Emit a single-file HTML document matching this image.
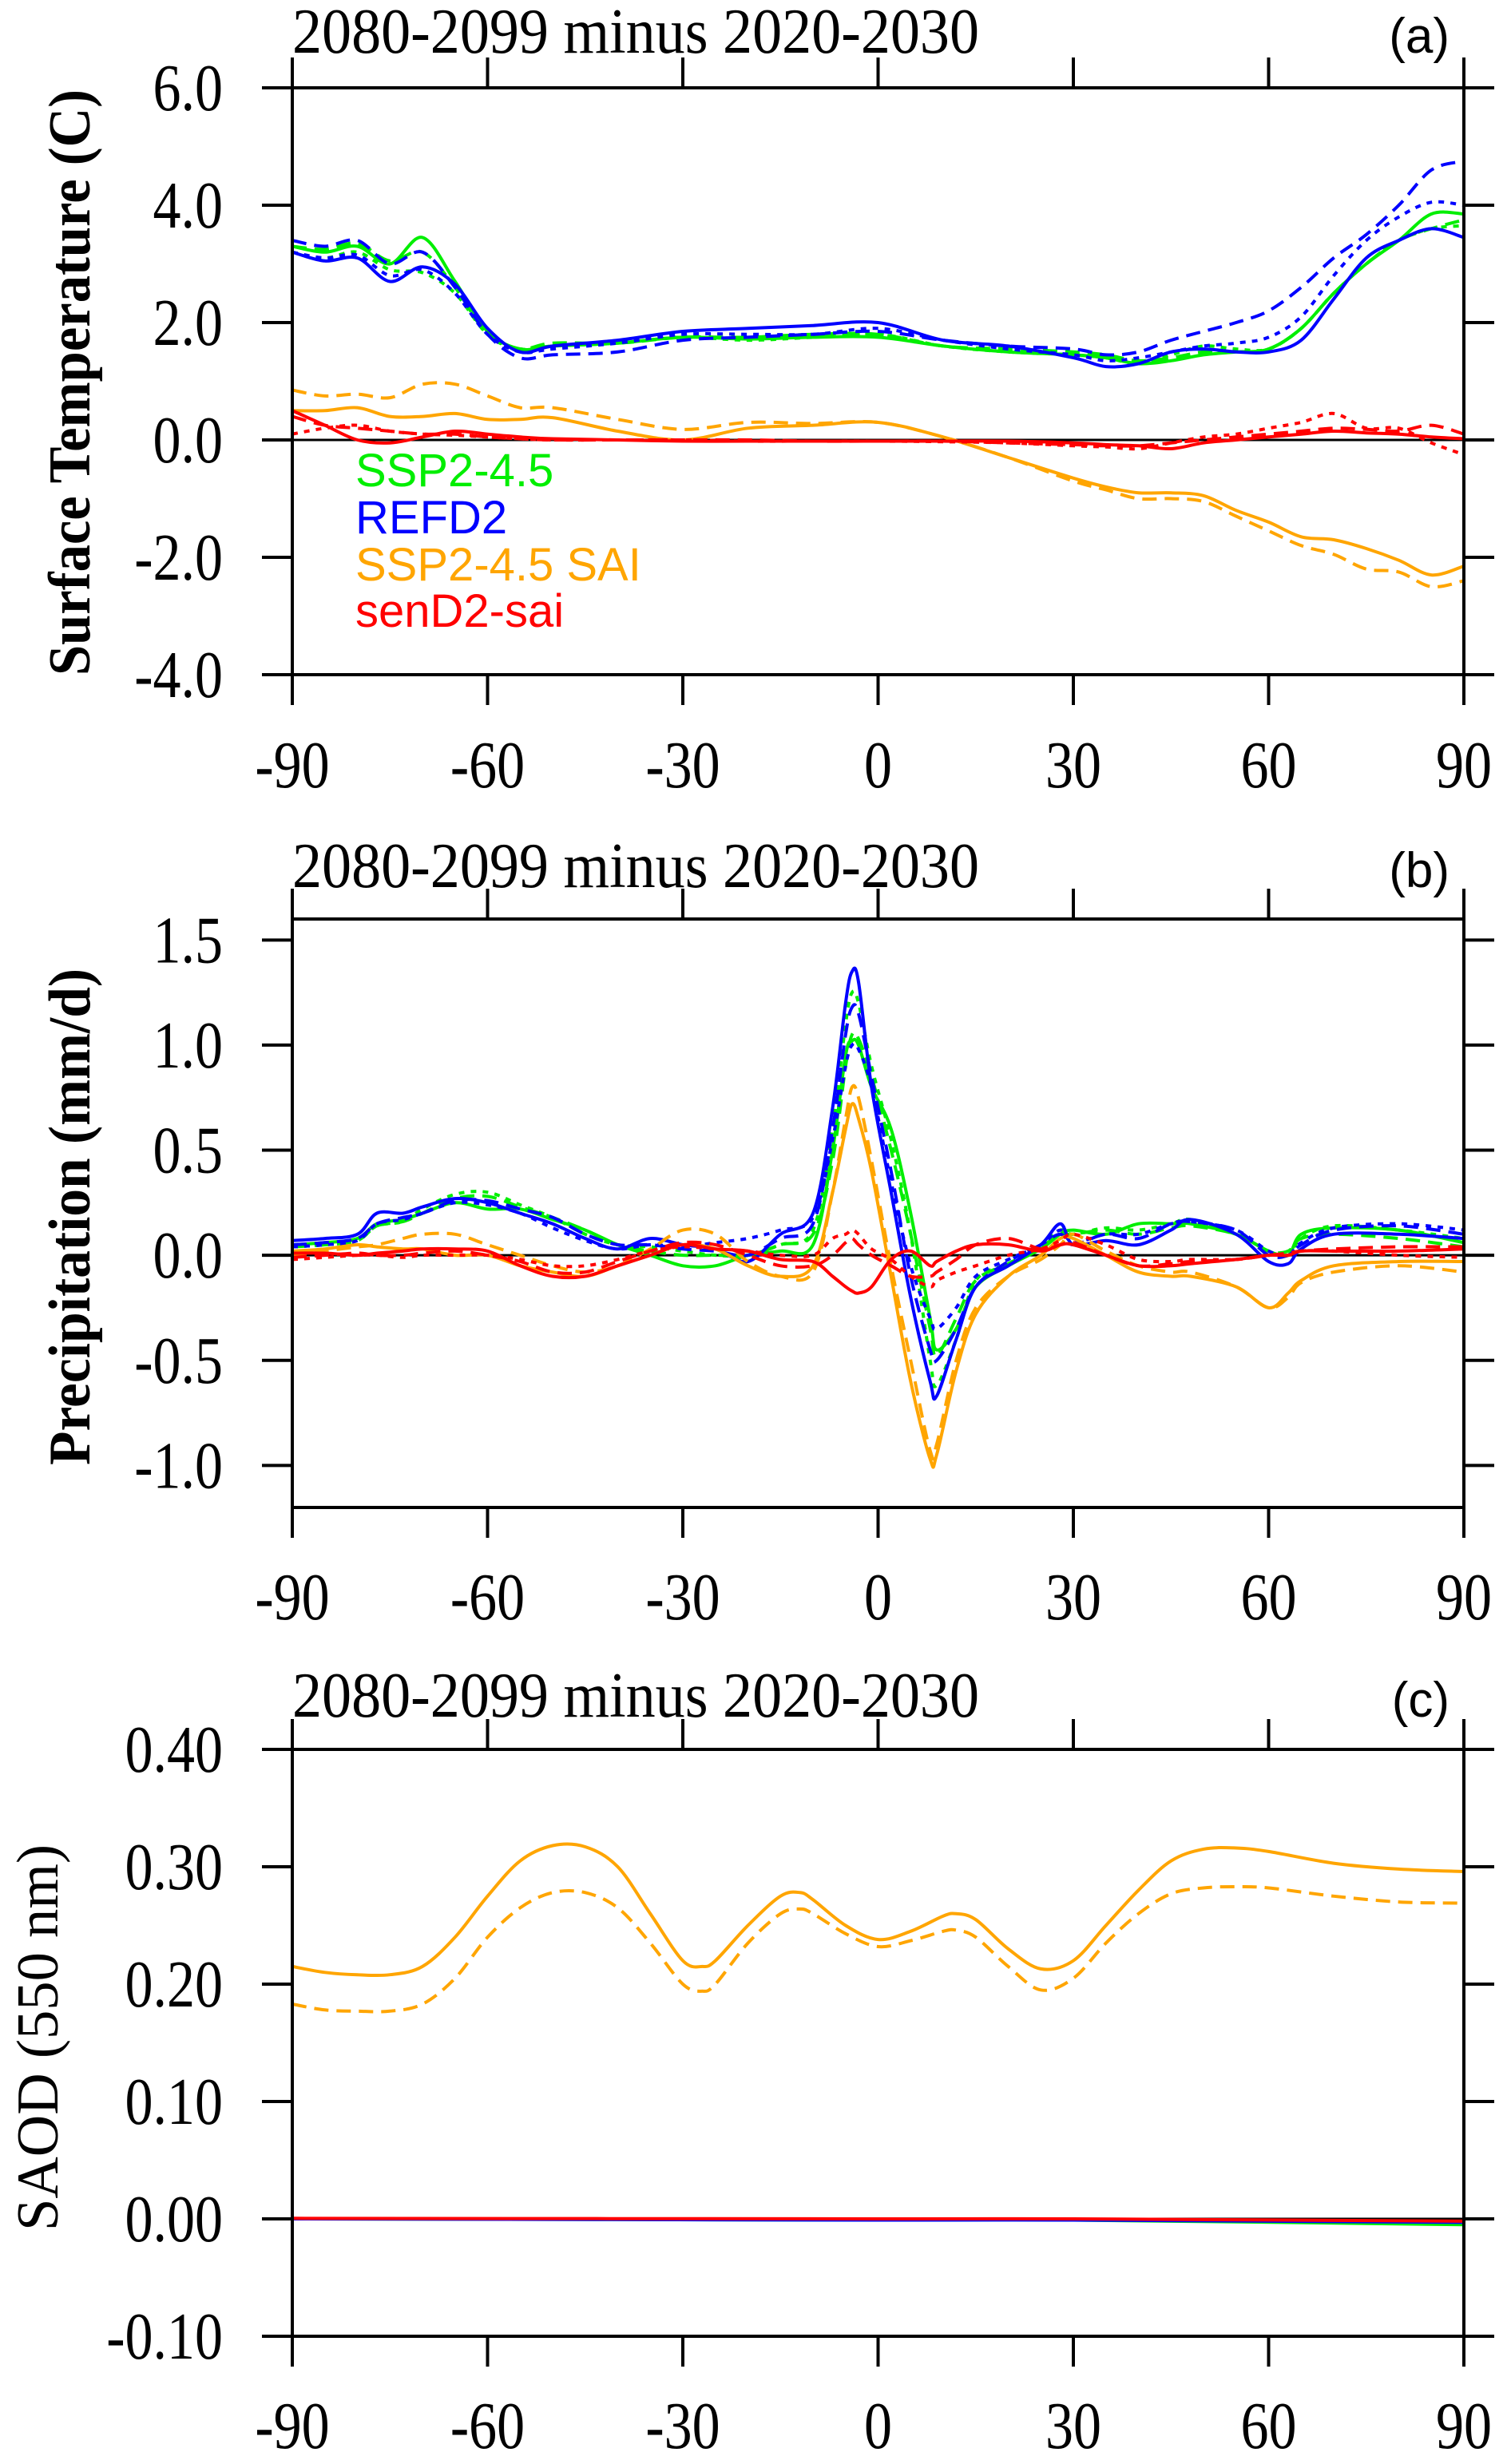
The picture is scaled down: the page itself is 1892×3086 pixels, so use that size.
<!DOCTYPE html>
<html><head><meta charset="utf-8"><style>
html,body{margin:0;padding:0;background:#fff;}
svg{display:block;}
</style></head><body>
<svg id="fig" width="1892" height="3086" viewBox="0 0 1892 3086" xmlns="http://www.w3.org/2000/svg"></svg>
<script>
// ---------- DATA ----------
const latA=[-90,-85,-80,-75,-70,-65,-60,-55,-50,-40,-30,-20,-10,0,10,20,30,35,40,45,50,55,60,65,70,75,80,85,90];
const tsGreenSolid=[3.3,3.2,3.3,3.0,3.45,2.7,1.85,1.55,1.6,1.65,1.75,1.72,1.75,1.75,1.6,1.5,1.45,1.4,1.3,1.35,1.45,1.5,1.55,1.9,2.5,3.0,3.4,3.85,3.85];
const tsGreenDash=[3.3,3.25,3.35,3.05,3.2,2.6,1.8,1.55,1.65,1.65,1.75,1.75,1.8,1.8,1.6,1.55,1.5,1.45,1.35,1.4,1.5,1.5,1.55,1.9,2.5,3.0,3.4,3.6,3.75];
const tsGreenDot=[3.2,3.1,3.2,2.9,2.85,2.5,1.8,1.55,1.6,1.65,1.75,1.7,1.75,1.8,1.6,1.5,1.45,1.4,1.3,1.45,1.6,1.55,1.55,1.9,2.5,3.0,3.4,3.6,3.65];
const tsBlueSolid=[3.2,3.05,3.1,2.7,2.95,2.65,1.9,1.5,1.6,1.7,1.85,1.9,1.95,2.0,1.7,1.6,1.4,1.25,1.3,1.5,1.55,1.5,1.5,1.7,2.4,3.1,3.4,3.6,3.45];
const tsBlueDash=[3.4,3.3,3.4,3.0,3.2,2.6,1.8,1.4,1.45,1.5,1.7,1.75,1.8,1.85,1.7,1.6,1.55,1.45,1.5,1.7,1.85,2.0,2.2,2.6,3.1,3.5,4.0,4.6,4.75];
const tsBlueDot=[3.2,3.1,3.15,2.8,2.9,2.5,1.8,1.5,1.55,1.65,1.8,1.8,1.8,1.9,1.7,1.55,1.45,1.35,1.4,1.5,1.6,1.65,1.75,2.1,2.8,3.4,3.8,4.05,4.0];
const tsOrangeSolid=[0.5,0.5,0.55,0.4,0.4,0.45,0.35,0.35,0.38,0.15,0.0,0.2,0.25,0.3,0.05,-0.3,-0.65,-0.8,-0.9,-0.9,-0.95,-1.2,-1.4,-1.65,-1.7,-1.85,-2.05,-2.3,-2.15];
const tsOrangeDash=[0.85,0.75,0.78,0.72,0.95,0.95,0.75,0.55,0.55,0.35,0.18,0.3,0.28,0.3,0.05,-0.3,-0.7,-0.85,-1.0,-1.0,-1.05,-1.3,-1.55,-1.8,-1.95,-2.2,-2.25,-2.5,-2.4];
const tsRedSolid=[0.5,0.25,0.0,-0.05,0.05,0.15,0.1,0.05,0.02,0.0,-0.02,-0.02,-0.02,-0.02,-0.02,-0.02,-0.05,-0.08,-0.1,-0.15,-0.05,0.0,0.05,0.1,0.15,0.12,0.1,0.05,0.02];
const tsRedDash=[0.4,0.25,0.2,0.15,0.1,0.1,0.05,0.02,0.0,0.0,0.0,0.0,-0.02,-0.02,-0.02,-0.05,-0.08,-0.1,-0.1,-0.05,0.0,0.05,0.1,0.15,0.2,0.18,0.15,0.25,0.1];
const tsRedDot=[0.1,0.2,0.25,0.15,0.1,0.08,0.05,0.02,0.0,0.0,0.0,-0.02,-0.02,-0.02,-0.03,-0.05,-0.1,-0.12,-0.15,-0.05,0.05,0.1,0.2,0.3,0.45,0.2,0.2,-0.05,-0.25];

const latB=[-90,-85,-80,-77,-73,-70,-65,-60,-55,-50,-45,-40,-35,-30,-25,-20,-15,-10,-7,-5,-4,-3,-1,2,5,8,9,12,15,20,25,28,30,35,40,45,48,55,60,63,65,70,80,90];
const prBlueSolid=[0.07,0.08,0.1,0.2,0.2,0.23,0.27,0.25,0.2,0.15,0.08,0.03,0.08,0.05,0.03,-0.03,0.1,0.2,0.7,1.2,1.35,1.3,0.8,0.3,-0.2,-0.6,-0.67,-0.4,-0.15,-0.05,0.05,0.15,0.05,0.07,0.05,0.12,0.17,0.1,-0.03,-0.04,0.03,0.1,0.1,0.08];
const prBlueDash=[0.05,0.06,0.08,0.15,0.18,0.2,0.26,0.26,0.22,0.18,0.1,0.05,0.05,0.03,0.02,0.0,0.08,0.15,0.6,1.05,1.18,1.15,0.85,0.4,-0.1,-0.45,-0.5,-0.35,-0.15,-0.03,0.05,0.1,0.05,0.1,0.08,0.15,0.16,0.12,0.0,0.0,0.05,0.12,0.14,0.1];
const prBlueDot=[0.04,0.05,0.07,0.15,0.17,0.2,0.25,0.24,0.2,0.13,0.07,0.03,0.05,0.04,0.06,0.08,0.12,0.18,0.55,0.9,1.0,0.98,0.8,0.35,-0.05,-0.3,-0.35,-0.25,-0.1,-0.02,0.05,0.12,0.06,0.1,0.1,0.15,0.16,0.12,0.02,0.0,0.06,0.13,0.15,0.12];
const prGreenSolid=[0.05,0.06,0.08,0.15,0.17,0.2,0.25,0.22,0.22,0.17,0.12,0.05,0.0,-0.05,-0.05,0.0,0.02,0.05,0.5,0.95,1.02,1.0,0.8,0.6,0.2,-0.3,-0.45,-0.35,-0.15,-0.05,0.03,0.1,0.12,0.1,0.15,0.15,0.15,0.1,0.02,0.0,0.1,0.13,0.12,0.06];
const prGreenDash=[0.04,0.05,0.07,0.14,0.16,0.2,0.27,0.28,0.23,0.18,0.12,0.05,0.02,0.0,0.0,0.0,0.05,0.1,0.45,0.9,1.05,1.03,0.85,0.5,0.1,-0.35,-0.48,-0.3,-0.12,-0.04,0.04,0.1,0.1,0.12,0.1,0.13,0.14,0.1,0.02,0.02,0.08,0.1,0.08,0.04];
const prGreenDot=[0.04,0.05,0.07,0.14,0.16,0.22,0.29,0.3,0.24,0.18,0.1,0.05,0.04,0.02,0.0,0.0,0.05,0.12,0.6,1.1,1.25,1.2,0.9,0.55,0.1,-0.5,-0.62,-0.4,-0.12,-0.04,0.05,0.12,0.1,0.13,0.12,0.15,0.17,0.1,0.02,0.0,0.08,0.14,0.12,0.08];
const prOrangeSolid=[0.02,0.03,0.05,0.04,0.03,0.03,0.0,0.0,-0.05,-0.08,-0.1,-0.05,0.0,0.05,0.03,-0.05,-0.1,-0.05,0.3,0.6,0.72,0.65,0.4,-0.1,-0.6,-0.97,-0.95,-0.55,-0.28,-0.1,0.0,0.08,0.08,0.0,-0.08,-0.1,-0.1,-0.15,-0.25,-0.18,-0.12,-0.05,-0.03,-0.03];
const prOrangeDash=[0.0,0.02,0.04,0.05,0.08,0.1,0.1,0.05,0.0,-0.05,-0.08,-0.05,0.03,0.12,0.1,-0.03,-0.1,-0.08,0.3,0.65,0.8,0.75,0.45,-0.05,-0.5,-0.93,-0.9,-0.5,-0.25,-0.1,-0.02,0.05,0.1,0.02,-0.05,-0.08,-0.08,-0.15,-0.25,-0.2,-0.13,-0.08,-0.05,-0.08];
const prRedSolid=[0.01,0.01,0.0,0.01,0.02,0.03,0.03,0.02,-0.05,-0.1,-0.1,-0.05,0.0,0.05,0.03,0.02,-0.02,-0.03,-0.1,-0.15,-0.17,-0.18,-0.15,-0.02,0.02,-0.05,-0.03,0.02,0.05,0.05,0.02,0.05,0.05,0.0,-0.05,-0.05,-0.04,-0.02,0.0,0.0,0.02,0.02,0.02,0.03];
const prRedDash=[-0.01,0.0,0.01,0.0,0.0,0.01,0.02,0.0,-0.03,-0.08,-0.08,-0.03,0.02,0.06,0.05,0.0,-0.05,-0.05,0.0,0.06,0.08,0.05,0.0,-0.05,-0.1,-0.1,-0.08,-0.02,0.05,0.08,0.03,0.05,0.06,0.0,-0.05,-0.04,-0.03,-0.02,0.0,0.01,0.02,0.03,0.04,0.04];
const prRedDot=[-0.02,-0.01,0.0,0.0,-0.01,0.0,0.0,0.0,-0.02,-0.05,-0.05,-0.02,0.02,0.04,0.03,0.02,0.0,0.0,0.08,0.1,0.12,0.1,0.03,-0.02,-0.1,-0.15,-0.12,-0.08,-0.05,0.0,0.03,0.07,0.1,0.05,-0.02,-0.03,-0.02,-0.02,0.0,0.0,0.02,0.02,0.0,-0.01];

const latC=[-90,-85,-80,-75,-70,-65,-60,-55,-50,-45,-40,-35,-30,-27,-25,-20,-15,-12,-10,-5,0,5,10,12,15,20,25,30,35,40,45,50,55,60,70,80,90];
const aodOrangeSolid=[0.215,0.21,0.208,0.208,0.215,0.24,0.275,0.305,0.318,0.317,0.30,0.26,0.22,0.215,0.22,0.25,0.275,0.278,0.272,0.25,0.238,0.245,0.258,0.26,0.255,0.23,0.213,0.22,0.25,0.28,0.305,0.315,0.316,0.313,0.303,0.298,0.296];
const aodOrangeDash=[0.183,0.178,0.177,0.177,0.183,0.205,0.24,0.265,0.278,0.278,0.265,0.235,0.2,0.194,0.2,0.235,0.26,0.264,0.26,0.243,0.232,0.237,0.245,0.246,0.24,0.215,0.195,0.205,0.235,0.26,0.277,0.282,0.283,0.282,0.275,0.27,0.269];
const latC0=[-90,0,30,90];
const aodGreen=[0,-0.001,-0.001,-0.005];
const aodBlue=[0,-0.001,-0.001,-0.003];
const aodRed=[0.0005,0,0,-0.002];

const xTicks=[-90,-60,-30,0,30,60,90];
const xTickLabels=["-90","-60","-30","0","30","60","90"];
const yTicksA=[-4,-2,0,2,4,6];
const yTickLabelsA=["-4.0","-2.0","0.0","2.0","4.0","6.0"];
const yTicksB=[-1,-0.5,0,0.5,1,1.5];
const yTickLabelsB=["-1.0","-0.5","0.0","0.5","1.0","1.5"];
const yTicksC=[-0.1,0,0.1,0.2,0.3,0.4];
const yTickLabelsC=["-0.10","0.00","0.10","0.20","0.30","0.40"];

// ---------- DRAWING ----------
const NS="http://www.w3.org/2000/svg";
const svg=document.getElementById('fig');
const X0=366,X1=1833;
const COL={green:'#00ee00',blue:'#0000ff',orange:'#ffa500',red:'#ff0000'};
const DASH={solid:null,dash:'18,10',dot:'7,8'};
function mk(tag,attrs,parent){const e=document.createElementNS(NS,tag);for(const k in attrs)e.setAttribute(k,attrs[k]);(parent||svg).appendChild(e);return e;}
function xs(lat){return X0+(lat+90)/180*(X1-X0);}
function condense(t){ // keep natural width at 70px but make glyphs taller
  const w=t.getComputedTextLength();
  t.setAttribute('font-size',84);
  t.setAttribute('textLength',w.toFixed(1));
  t.setAttribute('lengthAdjust','spacingAndGlyphs');
}
function smoothPath(px,py){
  let d='M'+px[0].toFixed(1)+','+py[0].toFixed(1);
  for(let i=0;i<px.length-1;i++){
    const x0=px[Math.max(i-1,0)],y0=py[Math.max(i-1,0)],x1=px[i],y1=py[i],x2=px[i+1],y2=py[i+1],x3=px[Math.min(i+2,px.length-1)],y3=py[Math.min(i+2,px.length-1)];
    const c1x=x1+(x2-x0)/6,c1y=y1+(y2-y0)/6,c2x=x2-(x3-x1)/6,c2y=y2-(y3-y1)/6;
    d+=' C'+c1x.toFixed(1)+','+c1y.toFixed(1)+' '+c2x.toFixed(1)+','+c2y.toFixed(1)+' '+x2.toFixed(1)+','+y2.toFixed(1);
  }
  return d;
}
function panel(cfg){
  const g=mk('g',{});
  
  
  const ys=v=>cfg.yTop+(cfg.ymax-v)/(cfg.ymax-cfg.ymin)*(cfg.yBot-cfg.yTop);
  const z=mk('line',{x1:X0,x2:X1,y1:ys(0),y2:ys(0),stroke:'#000','stroke-width':3},g);
  
  
  const cpath=mk('clipPath',{id:'clip'+cfg.id},svg);
  mk('rect',{x:X0,y:cfg.yTop,width:X1-X0,height:cfg.yBot-cfg.yTop},cpath);
  const sg=mk('g',{'clip-path':'url(#clip'+cfg.id+')'},g);
  cfg.series.forEach(s=>{
    const px=s.lat.map(xs),py=s.vals.map(ys);
    const p=mk('path',{d:smoothPath(px,py),fill:'none',stroke:COL[s.col],'stroke-width':4,'stroke-linejoin':'round'},sg);
    if(DASH[s.style])p.setAttribute('stroke-dasharray',DASH[s.style]);
    
    
  });
  const fr=mk('rect',{x:X0,y:cfg.yTop,width:X1-X0,height:cfg.yBot-cfg.yTop,fill:'none',stroke:'#000','stroke-width':4},g);
  
  
  xTicks.forEach((t,i)=>{
    const x=xs(t);
    mk('line',{x1:x,x2:x,y1:cfg.yBot,y2:cfg.yBot+38,stroke:'#000','stroke-width':4},g);
    mk('line',{x1:x,x2:x,y1:cfg.yTop,y2:cfg.yTop-38,stroke:'#000','stroke-width':4},g);
    const tl=mk('text',{x:x,y:cfg.xLabBase,'text-anchor':'middle','font-family':'Liberation Serif, serif','font-size':70},g);
    tl.textContent=xTickLabels[i];
    
    
    condense(tl);
  });
  cfg.yTicks.forEach((t,i)=>{
    const y=ys(t);
    mk('line',{x1:X0-38,x2:X0,y1:y,y2:y,stroke:'#000','stroke-width':4},g);
    mk('line',{x1:X1,x2:X1+38,y1:y,y2:y,stroke:'#000','stroke-width':4},g);
    const tl=mk('text',{x:279,y:y+28,'text-anchor':'end','font-family':'Liberation Serif, serif','font-size':70},g);
    tl.textContent=cfg.yTickLabels[i];
    
    
    condense(tl);
  });
  const ti=mk('text',{x:X0,y:cfg.titleBase,'font-family':'Liberation Serif, serif','font-size':80,textLength:860,lengthAdjust:'spacingAndGlyphs'},g);
  ti.textContent='2080-2099 minus 2020-2030';
  
  
  const pl=mk('text',{x:1815,y:cfg.titleBase,'text-anchor':'end','font-family':'Liberation Sans, sans-serif','font-size':62},g);
  pl.textContent=cfg.letter;
  
  
  const cy=cfg.ylabCenter;
  const yl=mk('text',{x:cfg.ylabX,y:cy,'text-anchor':'middle','font-family':'Liberation Serif, serif','font-size':74,'font-weight':cfg.ylabWeight,transform:'rotate(-90 '+cfg.ylabX+' '+cy+')',textLength:cfg.ylabLen,lengthAdjust:'spacingAndGlyphs'},g);
  yl.textContent=cfg.ylab;
  
  
  return g;
}
panel({id:'a',name:'panel-a-surface-temperature',yTop:110,yBot:845,ymin:-4,ymax:6,yTicks:yTicksA,yTickLabels:yTickLabelsA,xLabBase:986,titleBase:66,letter:'(a)',ylab:'Surface Temperature (C)',ylabWeight:'bold',ylabX:112,ylabCenter:479,ylabLen:734,
 series:[
  {lat:latA,vals:tsGreenSolid,col:'green',style:'solid'},{lat:latA,vals:tsGreenDash,col:'green',style:'dash'},{lat:latA,vals:tsGreenDot,col:'green',style:'dot'},
  {lat:latA,vals:tsBlueSolid,col:'blue',style:'solid'},{lat:latA,vals:tsBlueDash,col:'blue',style:'dash'},{lat:latA,vals:tsBlueDot,col:'blue',style:'dot'},
  {lat:latA,vals:tsOrangeSolid,col:'orange',style:'solid'},{lat:latA,vals:tsOrangeDash,col:'orange',style:'dash'},
  {lat:latA,vals:tsRedSolid,col:'red',style:'solid'},{lat:latA,vals:tsRedDash,col:'red',style:'dash'},{lat:latA,vals:tsRedDot,col:'red',style:'dot'}]});
panel({id:'b',name:'panel-b-precipitation',yTop:1151,yBot:1888,ymin:-1.2,ymax:1.6,yTicks:yTicksB,yTickLabels:yTickLabelsB,xLabBase:2028,titleBase:1111,letter:'(b)',ylab:'Precipitation (mm/d)',ylabWeight:'bold',ylabX:112,ylabCenter:1524,ylabLen:622,
 series:[
  {lat:latB,vals:prGreenSolid,col:'green',style:'solid'},{lat:latB,vals:prGreenDash,col:'green',style:'dash'},{lat:latB,vals:prGreenDot,col:'green',style:'dot'},
  {lat:latB,vals:prBlueSolid,col:'blue',style:'solid'},{lat:latB,vals:prBlueDash,col:'blue',style:'dash'},{lat:latB,vals:prBlueDot,col:'blue',style:'dot'},
  {lat:latB,vals:prOrangeSolid,col:'orange',style:'solid'},{lat:latB,vals:prOrangeDash,col:'orange',style:'dash'},
  {lat:latB,vals:prRedSolid,col:'red',style:'solid'},{lat:latB,vals:prRedDash,col:'red',style:'dash'},{lat:latB,vals:prRedDot,col:'red',style:'dot'}]});
panel({id:'c',name:'panel-c-saod',yTop:2191,yBot:2926,ymin:-0.1,ymax:0.4,yTicks:yTicksC,yTickLabels:yTickLabelsC,xLabBase:3066,titleBase:2150,letter:'(c)',ylab:'SAOD (550 nm)',ylabWeight:'normal',ylabX:72,ylabCenter:2552,ylabLen:484,
 series:[
  {lat:latC0,vals:aodGreen,col:'green',style:'solid'},{lat:latC0,vals:aodBlue,col:'blue',style:'solid'},{lat:latC0,vals:aodRed,col:'red',style:'solid'},
  {lat:latC,vals:aodOrangeSolid,col:'orange',style:'solid'},{lat:latC,vals:aodOrangeDash,col:'orange',style:'dash'}]});

const legNames=['SSP2-4.5','REFD2','SSP2-4.5 SAI','senD2-sai'];
const legCols=['green','blue','orange','red'];
const legBase=[609,668,727,785];
legNames.forEach((n,i)=>{
  const t=mk('text',{x:445,y:legBase[i],'font-family':'Liberation Sans, sans-serif','font-size':58,fill:COL[legCols[i]]});
  t.textContent=n;
  
  
});
</script>
</body></html>
